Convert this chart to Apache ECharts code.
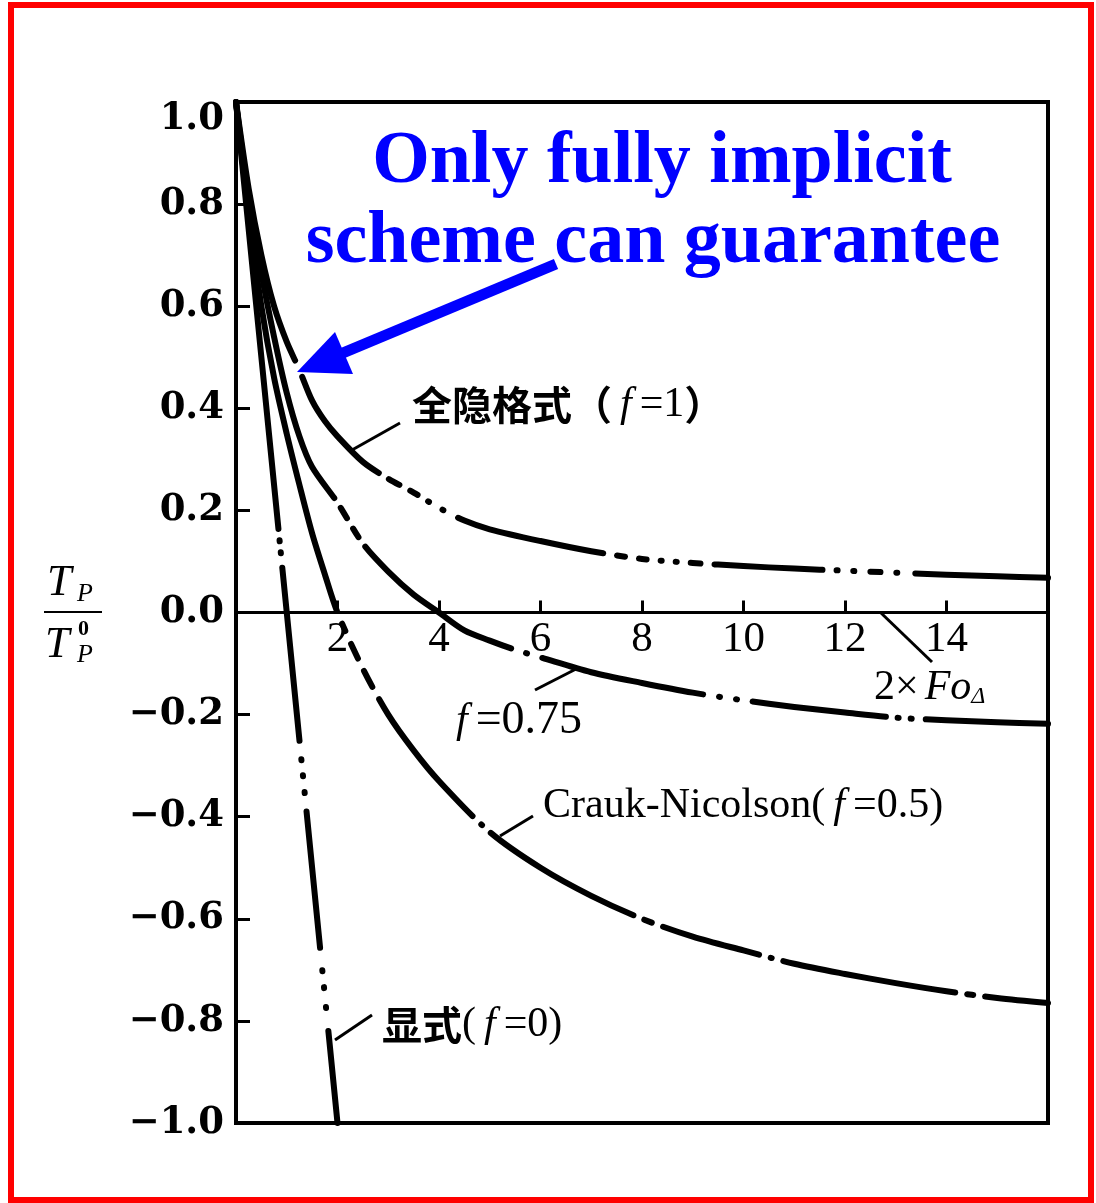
<!DOCTYPE html>
<html>
<head>
<meta charset="utf-8">
<title>Tp/Tp0 - 2Fo</title>
<script src="https://cdn.jsdelivr.net/npm/echarts@6/dist/echarts.min.js"></script>
<style>
html,body{margin:0;padding:0;background:#fff;}
#main{width:1096px;height:1203px;}
</style>
</head>
<body>
<div id="main"></div>
<script>
// 横轴 2×Fo，纵轴 Tp/Tp0
var implicitX = [0, 0.25, 0.5, 0.75, 1, 1.25, 1.5, 1.75, 2, 2.5, 3, 3.5, 4, 4.5, 5, 6, 7, 8, 9, 10, 11, 12, 13, 14, 15, 16];
var implicitY = [1, 0.83, 0.7, 0.6, 0.53, 0.475, 0.415, 0.375, 0.345, 0.295, 0.262, 0.235, 0.205, 0.18, 0.163, 0.14, 0.12, 0.105, 0.097, 0.091, 0.086, 0.082, 0.078, 0.074, 0.071, 0.068];

var f75X = [0, 0.25, 0.5, 0.75, 1, 1.25, 1.5, 2, 2.5, 3, 3.5, 4, 4.5, 5, 5.5, 6, 7, 8, 9, 10, 11, 12, 13, 14, 15, 16];
var f75Y = [1, 0.81, 0.665, 0.54, 0.43, 0.345, 0.285, 0.215, 0.135, 0.08, 0.035, 0.0, -0.035, -0.055, -0.073, -0.088, -0.117, -0.138, -0.157, -0.172, -0.185, -0.196, -0.206, -0.211, -0.215, -0.218];

var cnX = [0, 0.25, 0.5, 0.75, 1, 1.25, 1.5, 1.75, 2, 2.5, 3, 3.5, 4, 5, 6, 7, 8, 9, 10, 11, 12, 13, 14, 15, 16];
var cnY = [1, 0.78, 0.6, 0.46, 0.35, 0.25, 0.155, 0.075, 0.0, -0.11, -0.2, -0.27, -0.33, -0.43, -0.5, -0.555, -0.6, -0.635, -0.662, -0.688, -0.708, -0.726, -0.742, -0.755, -0.765];

var explicitX = [0, 0.5, 1, 1.5, 2];
var explicitY = [1, 0.5, 0, -0.5, -1];

var xTicks = [0, 16, 2];      // min, max, interval
var yTicks = [-1, 1, 0.2];

function pairs(xs, ys) {
	return xs.map(function (x, i) { return [x, ys[i]]; });
}

var serif = '"Liberation Serif", "Times New Roman", serif';
var cjk = '"Noto Sans CJK SC", sans-serif';

// 点划线样式（按路径长度，像素）
var implicitDash = [266, 18, 125, 12, 12, 12, 9, 12, 1, 16, 1, 16, 150, 14, 8, 14, 8, 14, 1, 14, 1, 14, 10, 14, 108, 14, 1, 16, 1, 16, 10, 16, 1, 18, 300];
var f75Dash = [412, 12, 12, 12, 10, 12, 180, 16, 1, 16, 165, 16, 1, 16, 1, 16, 134, 12, 1, 12, 1, 14, 300];
var cnDash = [520, 14, 8, 14, 16, 14, 18, 14, 150, 12, 1, 12, 165, 12, 8, 12, 100, 12, 1, 12, 175, 12, 6, 12, 300];
var explicitDash = [429, 11.5, 1, 11, 1, 14.5, 174, 18.5, 1, 15, 1, 16, 1, 18.5, 137, 22.5, 1, 16, 1, 19, 1, 23, 300];

function curve(name, data, dash, smooth) {
	return {
		name: name,
		type: 'line',
		data: data,
		smooth: smooth,
		showSymbol: false,
		silent: true,
		lineStyle: { color: '#000', width: 6, type: dash, cap: 'round', join: 'round' },
		z: 3
	};
}

function label(x, y, rich, text) {
	return { type: 'text', x: x, y: y, z: 20, style: { text: text, rich: rich, fill: '#000', align: 'left', verticalAlign: 'middle' } };
}
function leader(x1, y1, x2, y2) {
	return { type: 'line', z: 20, shape: { x1: x1, y1: y1, x2: x2, y2: y2 }, style: { stroke: '#000', lineWidth: 3 } };
}

var richLbl = {
	c: { fontFamily: cjk, fontWeight: 'bold', fontSize: 40, fill: '#000' },
	n: { fontFamily: serif, fontSize: 42, fill: '#000' },
	b: { fontFamily: serif, fontSize: 46, fill: '#000' },
	i: { fontFamily: serif, fontStyle: 'italic', fontSize: 42, fill: '#000', padding: [0, 8, 0, 8] },
	j: { fontFamily: serif, fontStyle: 'italic', fontSize: 42, fill: '#000', padding: [0, 0, 0, 6] },
	s: { fontFamily: serif, fontStyle: 'italic', fontSize: 24, fill: '#000', padding: [18, 0, 0, 0] }
};

var myChart = echarts.init(document.getElementById('main'));
var option = {
	backgroundColor: '#fff',
	animation: false,
	grid: { left: 236, top: 102, width: 812, height: 1021, show: true, borderColor: '#000', borderWidth: 4, backgroundColor: 'transparent' },
	xAxis: {
		type: 'value', min: xTicks[0], max: xTicks[1], interval: xTicks[2],
		// 横轴放在 y=0 处（网格中线）
		offset: -510.5,
		axisLine: { onZero: false, lineStyle: { color: '#000', width: 3 } },
		axisTick: { inside: true, length: 12, lineStyle: { color: '#000', width: 3 } },
		axisLabel: {
			margin: 6, color: '#000', fontFamily: serif, fontSize: 43,
			formatter: function (v) { return (v <= 0 || v >= 16) ? '' : String(v); }
		},
		splitLine: { show: false }
	},
	yAxis: {
		type: 'value', min: yTicks[0], max: yTicks[1], interval: yTicks[2],
		axisLine: { lineStyle: { color: '#000', width: 4 } },
		axisTick: { inside: true, length: 14, lineStyle: { color: '#000', width: 3 } },
		axisLabel: {
			margin: 12, color: '#000', fontFamily: '"DejaVu Serif", serif', fontWeight: 'bold', fontSize: 37,
			formatter: function (v) {
				var s = Math.abs(v).toFixed(1);
				if (Math.abs(v) < 1e-9) return '0.0';
				if (v < 0) return '\u2212' + s;
				if (v > 0.99) return '{top|' + s + '}';
				return s;
			},
			rich: {
				top: { fontFamily: '"DejaVu Serif", serif', fontWeight: 'bold', fontSize: 37, color: '#000', padding: [34, 0, 0, 0] }
			}
		},
		splitLine: { show: false }
	},
	series: [
		curve('全隐格式 (f=1)', pairs(implicitX, implicitY), implicitDash, 0.3),
		curve('f=0.75', pairs(f75X, f75Y), f75Dash, 0.3),
		curve('Crauk-Nicolson (f=0.5)', pairs(cnX, cnY), cnDash, 0.3),
		curve('显式 (f=0)', pairs(explicitX, explicitY), explicitDash, false)
	],
	graphic: [
		// 红色外框
		{ type: 'rect', z: 30, shape: { x: 11, y: 5, width: 1080, height: 1195 }, style: { fill: 'none', stroke: '#ff0000', lineWidth: 6 } },
		// 蓝色注释
		{ type: 'text', x: 662, y: 163, z: 25, style: { text: 'Only fully implicit', font: 'bold 74px ' + serif, fill: '#0000ff', align: 'center', verticalAlign: 'middle' } },
		{ type: 'text', x: 653, y: 243, z: 25, style: { text: 'scheme can guarantee', font: 'bold 74px ' + serif, fill: '#0000ff', align: 'center', verticalAlign: 'middle' } },
		{ type: 'line', z: 25, shape: { x1: 556, y1: 264, x2: 338, y2: 355 }, style: { stroke: '#0000ff', lineWidth: 11 } },
		{ type: 'polygon', z: 25, shape: { points: [[297, 372], [335, 332], [353, 374]] }, style: { fill: '#0000ff' } },
		// 曲线标注
		leader(352, 450, 400, 423),
		label(412, 405, richLbl, '{c|全隐格式（}{i|f}{n|=1}{c|）}'),
		leader(535, 690, 578, 668),
		label(448, 721, richLbl, '{i|f}{b|=0.75}'),
		leader(500, 836, 533, 816),
		label(543, 806, richLbl, '{n|Crauk-Nicolson(}{i|f}{n|=0.5)}'),
		leader(335, 1040, 372, 1015),
		label(382, 1025, richLbl, '{c|显式}{n|(}{i|f}{n|=0)}'),
		leader(880, 612, 932, 662),
		label(874, 688, richLbl, '{n|2\u00d7}{j|Fo}{s|\u0394}'),
		// 纵轴标题 Tp / Tp0
		{ type: 'text', x: 47, y: 583, z: 20, style: { text: 'T', font: 'italic 44px ' + serif, fill: '#000', align: 'left', verticalAlign: 'middle' } },
		{ type: 'text', x: 77, y: 594, z: 20, style: { text: 'P', font: 'italic 26px ' + serif, fill: '#000', align: 'left', verticalAlign: 'middle' } },
		{ type: 'line', z: 20, shape: { x1: 44, y1: 612, x2: 102, y2: 612 }, style: { stroke: '#000', lineWidth: 2 } },
		{ type: 'text', x: 45, y: 645, z: 20, style: { text: 'T', font: 'italic 44px ' + serif, fill: '#000', align: 'left', verticalAlign: 'middle' } },
		{ type: 'text', x: 78, y: 629, z: 20, style: { text: '0', font: 'bold 22px ' + serif, fill: '#000', align: 'left', verticalAlign: 'middle' } },
		{ type: 'text', x: 77, y: 655, z: 20, style: { text: 'P', font: 'italic 26px ' + serif, fill: '#000', align: 'left', verticalAlign: 'middle' } }
	]
};
myChart.setOption(option);
</script>
</body>
</html>
